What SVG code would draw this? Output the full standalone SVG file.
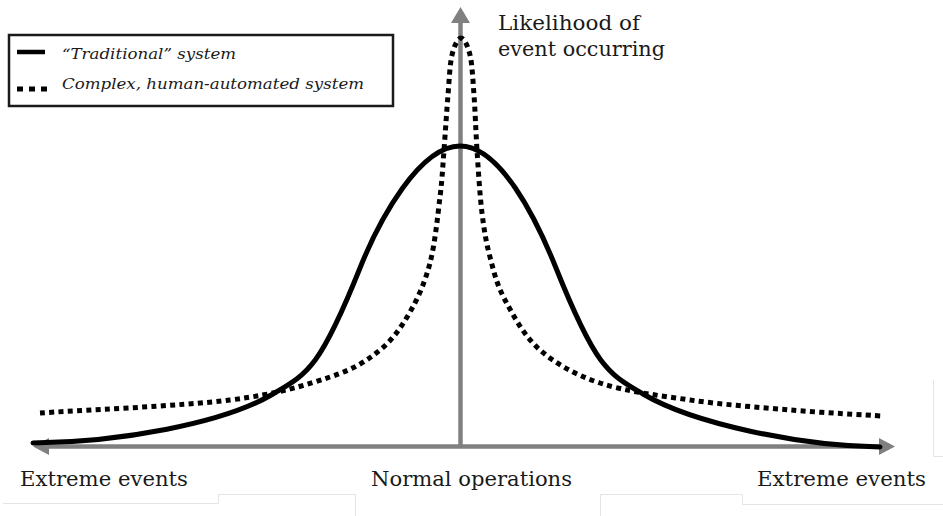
<svg xmlns="http://www.w3.org/2000/svg" width="943" height="516" viewBox="0 0 943 516">
<style>
.axis{stroke:#808080;stroke-width:4.5;fill:none}
.head{fill:#808080}
.solid{stroke:#000;stroke-width:5;fill:none;stroke-linecap:round;stroke-linejoin:round}
.dot{stroke:#000;stroke-width:5;fill:none;stroke-dasharray:5 4.3}
.lbl{font-family:"DejaVu Serif","Liberation Serif",serif;fill:#1a1a1a}
.leg{font-family:"DejaVu Serif","Liberation Serif",serif;font-style:italic;font-size:14px;fill:#1a1a1a}
.art{stroke:#e4e4e4;stroke-width:1;fill:none}
</style>
<rect width="943" height="516" fill="#fff"/>
<g id="artifacts">
<path class="art" d="M3,503.5 H218.5 V494.5 H355.5 V516"/>
<path class="art" d="M600.5,516 V494.5 H742.5 V504.5 H943"/>
<path class="art" d="M933.5,380 V456.5 H943"/>
</g>
<g id="axes">
<line class="axis" x1="460.5" y1="20" x2="460.5" y2="446"/>
<polygon class="head" points="460.5,7 451,23 470,23"/>
<line class="axis" x1="46" y1="446.5" x2="882" y2="446.5"/>
<polygon class="head" points="33,446.5 49,438 49,455"/>
<polygon class="head" points="895,446.5 879,438 879,455"/>
</g>
<g id="curves">
<path id="traditional" class="solid" d="M33,443 C120,442 223,423.5 273,394 C308,373.4 320,368 360,268 C380,218 420,146 460,146 C500,146 536,218 556,268 C596,368 608,373.4 643,394 C693,423.5 800,446 880,447"/>
<path id="complex" class="dot" d="M40,413 C71.7,410.8 181.7,406 230,400 C278.3,394 305,385.3 330,377 C355,368.7 366.7,360.8 380,350 C393.3,339.2 401.7,326.5 410,312 C418.3,297.5 425,282.2 430,263 C435,243.8 437.7,215.8 440,197 C442.3,178.2 442.7,167 444,150 C445.3,133 446.7,110.8 448,95 C449.3,79.2 449.8,64.5 452,55 C454.2,45.5 458,38 461,38 C464,38 467.8,45.5 470,55 C472.2,64.5 472.8,79.2 474,95 C475.2,110.8 475.7,130.3 477,150 C478.3,169.7 479.8,195.2 482,213 C484.2,230.8 486.2,242.5 490,257 C493.8,271.5 496.7,284.5 505,300 C513.3,315.5 524.2,336.2 540,350 C555.8,363.8 575,374.7 600,383 C625,391.3 658.3,395.5 690,400 C721.7,404.5 758,407.3 790,410 C822,412.7 866.7,415 882,416"/>
</g>
<g id="legend">
<rect x="9" y="35" width="384" height="71" fill="#fff" stroke="#1a1a1a" stroke-width="2.5"/>
<line x1="17" y1="52" x2="45" y2="52" stroke="#000" stroke-width="4.5"/>
<text class="leg" x="62" y="59" textLength="174" lengthAdjust="spacingAndGlyphs">“Traditional” system</text>
<line x1="17" y1="89" x2="47" y2="89" stroke="#000" stroke-width="5" stroke-dasharray="6 6"/>
<text class="leg" x="62" y="89" textLength="302" lengthAdjust="spacingAndGlyphs">Complex, human-automated system</text>
</g>
<g id="labels">
<text class="lbl" x="498" y="30" font-size="21" textLength="142" lengthAdjust="spacingAndGlyphs">Likelihood of</text>
<text class="lbl" x="498" y="56" font-size="21" textLength="167" lengthAdjust="spacingAndGlyphs">event occurring</text>
<text class="lbl" x="20" y="486" font-size="19.5" textLength="168" lengthAdjust="spacingAndGlyphs">Extreme events</text>
<text class="lbl" x="371" y="486" font-size="19.5" textLength="201" lengthAdjust="spacingAndGlyphs">Normal operations</text>
<text class="lbl" x="757" y="486" font-size="19.5" textLength="169" lengthAdjust="spacingAndGlyphs">Extreme events</text>
</g>
</svg>
